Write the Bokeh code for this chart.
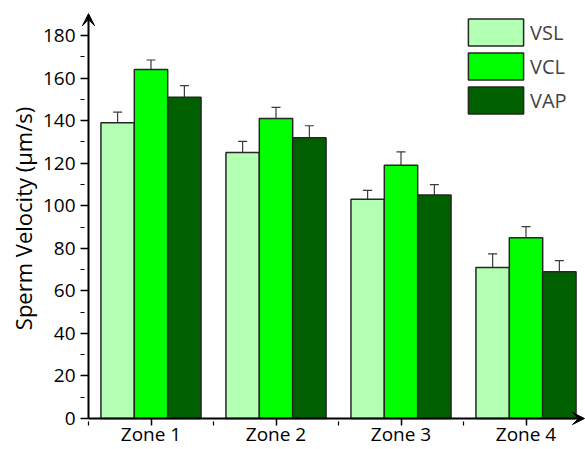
from bokeh.plotting import figure
from bokeh.models import (ColumnDataSource, FixedTicker, Range1d, Whisker, TeeHead,
                          Arrow, VeeHead, Legend, LegendItem)
from bokeh.embed import file_html
from bokeh.resources import INLINE

zones = ["Zone 1", "Zone 2", "Zone 3", "Zone 4"]
series = ["VSL", "VCL", "VAP"]
vsl = [139, 125, 103, 71]
vcl = [164, 141, 119, 85]
vap = [151, 132, 105, 69]
vsl_err = [5.0, 5.3, 4.2, 6.4]
vcl_err = [4.5, 5.2, 6.3, 5.2]
vap_err = [5.5, 5.6, 4.9, 5.2]
colors = ["#b3ffb3", "#00ff00", "#006000"]
y_ticks = [0, 20, 40, 60, 80, 100, 120, 140, 160, 180]

FONT = "Open Sans"
bar_w = 0.267
offsets = [-bar_w, 0.0, bar_w]

# ranges: axes drawn as arrows at x=0.5 / y=0, frame extends a little beyond
x_axis_at = 0.5
y_axis_at = 0
x_start, x_end = 0.436, 4.476
y_start, y_end = -3.29, 191.3
x_arrow_end = 4.468
y_arrow_end = 190.3

p = figure(width=585, height=449, output_backend="svg", toolbar_location=None,
           x_range=Range1d(x_start, x_end), y_range=Range1d(y_start, y_end),
           min_border_left=80, min_border_right=0, min_border_top=11, min_border_bottom=24)
p.outline_line_color = None
p.grid.grid_line_color = None
p.background_fill_color = "white"

values = [vsl, vcl, vap]
errs = [vsl_err, vcl_err, vap_err]
renderers = []
for k, name in enumerate(series):
    xs = [i + 1 + offsets[k] for i in range(len(zones))]
    src = ColumnDataSource(dict(x=xs, top=values[k],
                                upper=[v + e for v, e in zip(values[k], errs[k])],
                                lower=[v - e for v, e in zip(values[k], errs[k])]))
    r = p.vbar(x="x", top="top", width=bar_w, bottom=0, source=src,
               fill_color=colors[k], line_color="#262626", line_width=1.5)
    renderers.append(r)
    w = Whisker(base="x", upper="upper", lower="lower", source=src,
                line_color="#3a3a3a", line_width=1.2,
                upper_head=TeeHead(size=9, line_color="#3a3a3a", line_width=1.2),
                lower_head=TeeHead(size=9, line_color="#3a3a3a", line_width=1.2))
    p.add_layout(w)

# axes (ticks drawn inward from the frame edge so they end on the arrow lines)
p.xaxis.ticker = FixedTicker(ticks=[1, 2, 3, 4], minor_ticks=[0.5, 1.5, 2.5, 3.5])
p.xaxis.major_label_overrides = {i + 1: z for i, z in enumerate(zones)}
p.yaxis.ticker = FixedTicker(ticks=y_ticks, minor_ticks=[t + 10 for t in y_ticks[:-1]])
for ax in (p.xaxis[0], p.yaxis[0]):
    ax.axis_line_color = None
    ax.major_tick_line_color = "black"
    ax.minor_tick_line_color = "black"
    ax.major_tick_line_width = 1.5
    ax.minor_tick_line_width = 1.2
    ax.major_tick_out = 0
    ax.minor_tick_out = 0
    ax.major_label_text_font = FONT
    ax.major_label_text_font_size = "19px"
    ax.major_label_text_color = "black"
p.xaxis.major_tick_in = 7
p.xaxis.minor_tick_in = 4
p.yaxis.major_tick_in = 8
p.yaxis.minor_tick_in = 4
p.xaxis.major_label_standoff = -5
p.yaxis.major_label_standoff = 5
p.yaxis.axis_label = "Sperm Velocity (µm/s)"
p.yaxis.axis_label_text_font = FONT
p.yaxis.axis_label_text_font_size = "22px"
p.yaxis.axis_label_text_font_style = "normal"
p.yaxis.axis_label_text_color = "black"
p.yaxis.axis_label_standoff = 2

# axis lines with arrow heads
p.add_layout(Arrow(x_start=x_axis_at, y_start=y_axis_at, x_end=x_axis_at, y_end=y_arrow_end,
                   line_color="black", line_width=2,
                   end=VeeHead(size=12, fill_color="black", line_color="black", line_width=1)))
p.add_layout(Arrow(x_start=x_axis_at, y_start=y_axis_at, x_end=x_arrow_end, y_end=y_axis_at,
                   line_color="black", line_width=2,
                   end=VeeHead(size=12, fill_color="black", line_color="black", line_width=1)))

legend = Legend(items=[LegendItem(label=s, renderers=[r]) for s, r in zip(series, renderers)],
                location=(381, 308), orientation="vertical",
                glyph_width=69, glyph_height=34, spacing=-3, padding=0, margin=0,
                label_standoff=0, label_text_font=FONT, label_text_font_size="20px",
                label_height=34, border_line_color=None, background_fill_alpha=0)
p.add_layout(legend)

open("out.html", "w").write(file_html(p, INLINE))
